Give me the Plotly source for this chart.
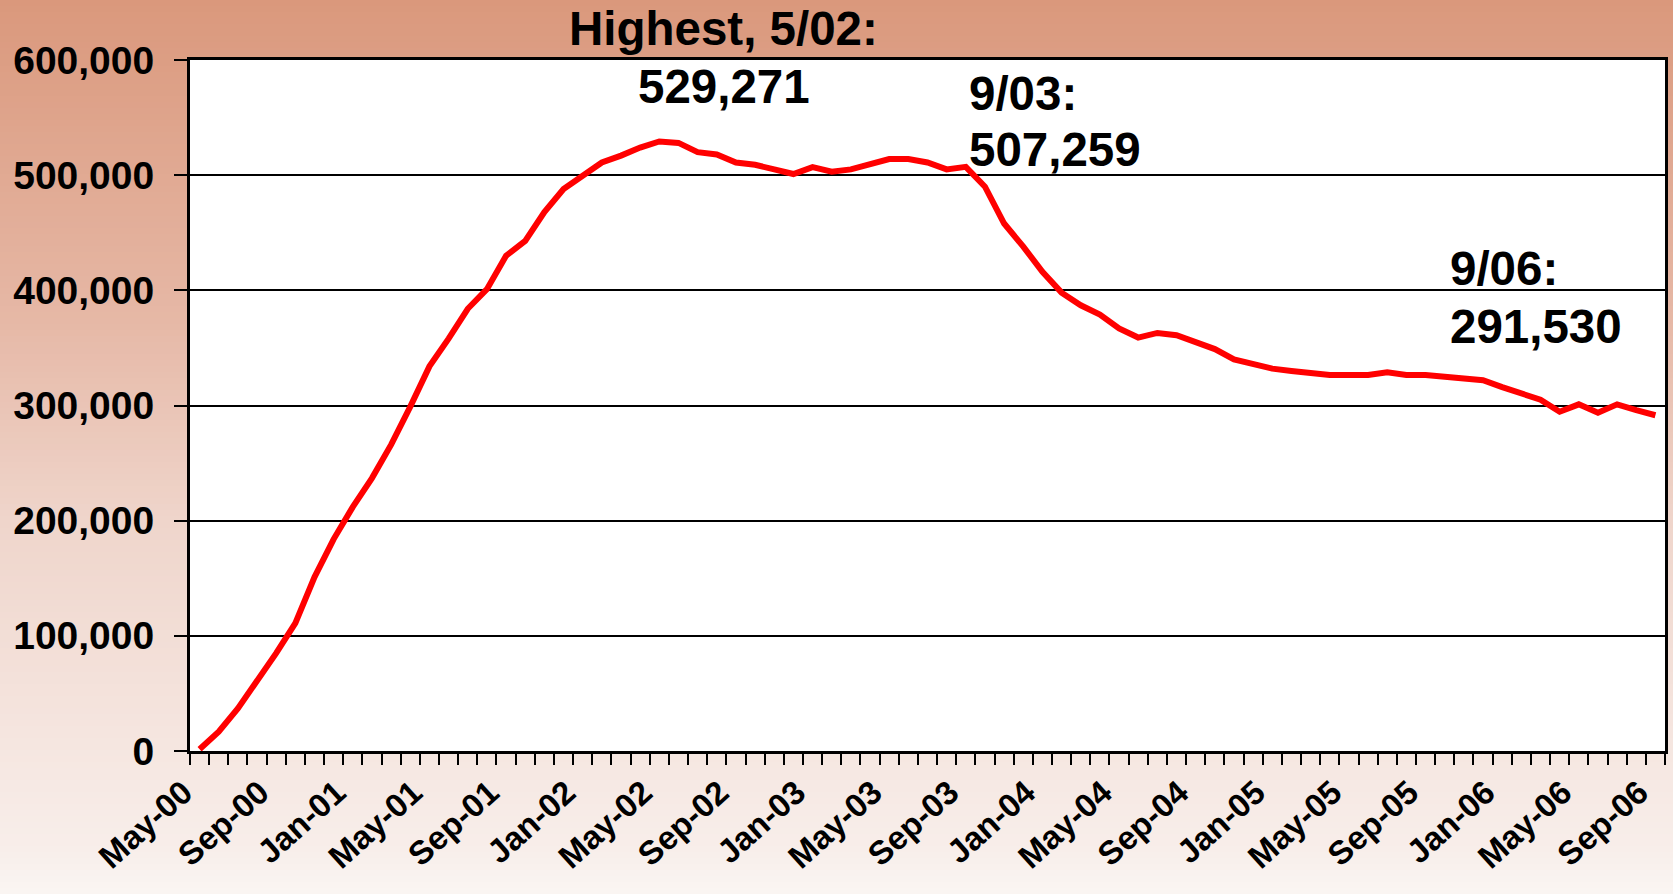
import plotly.graph_objects as go
import pandas as pd

# ---- data ----
months = pd.date_range("2000-05-01", "2006-09-01", freq="MS").strftime("%b-%y").tolist()
enrollment = [
    1500, 16800, 37000, 60500, 85000, 111000, 151000, 184000, 212000, 237000,
    266000, 299000, 334000, 358000, 384000, 401000, 430000, 443000, 468000, 488000,
    499000, 511000, 517000, 524000, 529271, 528000, 520000, 518000, 511000, 509000,
    505000, 501000, 507000, 503000, 505000, 509000, 514000, 514000, 511000, 505000,
    507259, 490000, 458000, 438000, 416000, 398000, 387000, 379000, 367000, 359000,
    363000, 361000, 355000, 349000, 340000, 336000, 332000, 330000, 328500, 326500,
    326500, 326500, 328800, 326500, 326500, 325000, 323000, 322000, 316000, 311000,
    305000, 294600, 301000, 293800, 301000, 296000, 291530,
]
tick_labels = [m if i % 4 == 0 else "" for i, m in enumerate(months)]
y_ticks = [0, 100000, 200000, 300000, 400000, 500000, 600000]
notes = [
    ("Highest, 5/02:", 0.362, 1.045, "center"),
    ("529,271", 0.362, 0.962, "center"),
    ("9/03:", 0.527, 0.951, "left"),
    ("507,259", 0.527, 0.870, "left"),
    ("9/06:", 0.853, 0.698, "left"),
    ("291,530", 0.853, 0.614, "left"),
]

# ---- layout geometry ----
W, H = 1673, 894
ML, MR, MT, MB = 190, 5, 60, 143
PW, PH = W - ML - MR, H - MT - MB

FONT = "Liberation Sans, Arial, sans-serif"

fig = go.Figure()
fig.add_trace(go.Scatter(
    x=months, y=enrollment, mode="lines",
    line=dict(color="#FF0000", width=6), showlegend=False,
))

# background gradient (vertical)
stops = [(0, (218, 152, 124)), (320, (230, 184, 166)), (520, (239, 213, 203)),
         (850, (248, 238, 234)), (894, (250, 246, 243))]

def col_at(py):
    for (a, ca), (b, cb) in zip(stops[:-1], stops[1:]):
        if a <= py <= b:
            t = (py - a) / (b - a)
            return tuple(round(ca[k] + (cb[k] - ca[k]) * t) for k in range(3))
    return stops[-1][1]

shapes = []
step = 6
for py in range(0, H, step):
    c = col_at(py + step / 2)
    y_top = (H - MB - py) / PH
    y_bot = (H - MB - (py + step + 1)) / PH
    shapes.append(dict(
        type="rect", xref="paper", yref="paper",
        x0=-ML / PW - 0.01, x1=(W - ML) / PW + 0.01, y0=y_bot, y1=y_top,
        fillcolor="rgb(%d,%d,%d)" % c, line=dict(width=0), layer="below",
    ))
shapes.append(dict(type="rect", xref="paper", yref="paper", x0=0, x1=1, y0=0, y1=1,
                   fillcolor="white", line=dict(width=0), layer="below"))

annotations = [
    dict(text=t, x=x, y=y, xref="paper", yref="paper", xanchor=xa, yanchor="middle",
         showarrow=False, font=dict(family=FONT, size=47.5, color="black", weight="bold"))
    for t, x, y, xa in notes
]

fig.update_layout(
    width=W, height=H,
    margin=dict(l=ML, r=MR, t=MT, b=MB, pad=0),
    paper_bgcolor="rgb(250,246,243)",
    plot_bgcolor="white",
    shapes=shapes,
    annotations=annotations,
    xaxis=dict(
        type="category", tickmode="array", tickvals=months, ticktext=tick_labels,
        tickson="boundaries", ticks="outside", ticklen=11, tickwidth=2, tickcolor="black",
        tickangle=-42, showgrid=False, showline=True, linecolor="black", linewidth=3,
        mirror=True, range=[-0.5, len(months) - 0.5],
        ticklabelstandoff=6, ticklabelshift=-16,
        tickfont=dict(family=FONT, size=33, color="black", weight="bold"),
    ),
    yaxis=dict(
        range=[0, 600000], tickvals=y_ticks, tickformat=",",
        ticks="outside", ticklen=13, tickwidth=2, tickcolor="black",
        showgrid=True, gridcolor="black", gridwidth=2, zeroline=False,
        showline=True, linecolor="black", linewidth=3, mirror=True,
        ticklabelstandoff=12,
        tickfont=dict(family=FONT, size=39, color="black", weight="bold"),
    ),
)

fig.write_html(
    "out.html",
    config={"displayModeBar": False},
    post_script="document.body.style.margin='0';document.body.style.overflow='hidden';",
)
